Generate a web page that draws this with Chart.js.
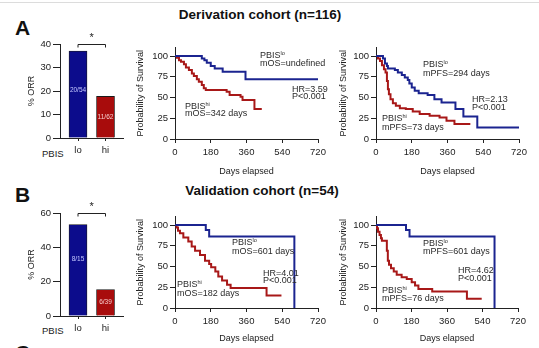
<!DOCTYPE html>
<html>
<head>
<meta charset="utf-8">
<script src="https://cdn.jsdelivr.net/npm/chart.js@4.4.1/dist/chart.umd.min.js"></script>
<style>
  body { margin: 0; width: 539px; height: 348px; background: #fff; position: relative; overflow: hidden;
         font-family: "Liberation Sans", Arial, sans-serif; color: #222; }
  canvas { position: absolute; }
  .t { position: absolute; white-space: nowrap; line-height: 1; }
  .panel { font-size: 21px; font-weight: bold; color: #111; }
  .head { font-size: 13.5px; font-weight: bold; color: #111; width: 240px; text-align: center; }
  .note { font-size: 9px; color: #2a2a2a; }
  .note sup { font-size: 5.5px; vertical-align: 0; position: relative; top: -3px; }
  .pb { font-size: 9.5px; }
  #rule { position: absolute; left: 0; top: 2px; width: 539px; height: 1px; background: #dcdcdc; }
</style>
</head>
<body>
<div id="rule"></div>
<div class="t panel" style="left:15px;top:17px">A</div>
<div class="t panel" style="left:15px;top:184px">B</div>
<div class="t panel" style="left:15px;top:342px">C</div>
<div class="t head" style="left:140px;top:8px">Derivation cohort (n=116)</div>
<div class="t head" style="left:142px;top:184px">Validation cohort (n=54)</div>
<div class="t pb" style="left:42px;top:149px">PBIS</div>
<div class="t pb" style="left:42px;top:326px">PBIS</div>

<canvas id="barA" width="105" height="135" style="left:26px;top:25px"></canvas>
<canvas id="barB" width="105" height="144" style="left:26px;top:194px"></canvas>
<canvas id="kmAos" width="195" height="137" style="left:135px;top:40px"></canvas>
<canvas id="kmApfs" width="193" height="137" style="left:338px;top:40px"></canvas>
<canvas id="kmBos" width="195" height="135" style="left:135px;top:209px"></canvas>
<canvas id="kmBpfs" width="192" height="135" style="left:338px;top:209px"></canvas>

<div class="t note" style="left:260px;top:51px">PBIS<sup>lo</sup></div>
<div class="t note" style="left:260px;top:59px">mOS=undefined</div>
<div class="t note" style="left:292px;top:85px">HR=3.59</div>
<div class="t note" style="left:292px;top:92px">P&lt;0.001</div>
<div class="t note" style="left:185px;top:102px">PBIS<sup>hi</sup></div>
<div class="t note" style="left:185px;top:109px">mOS=342 days</div>

<div class="t note" style="left:423px;top:60px">PBIS<sup>lo</sup></div>
<div class="t note" style="left:423px;top:69px">mPFS=294 days</div>
<div class="t note" style="left:472px;top:95px">HR=2.13</div>
<div class="t note" style="left:472px;top:103px">P&lt;0.001</div>
<div class="t note" style="left:382px;top:114px">PBIS<sup>hi</sup></div>
<div class="t note" style="left:382px;top:123px">mPFS=73 days</div>

<div class="t note" style="left:232px;top:238px">PBIS<sup>lo</sup></div>
<div class="t note" style="left:232px;top:247px">mOS=601 days</div>
<div class="t note" style="left:263px;top:269px">HR=4.01</div>
<div class="t note" style="left:263px;top:276px">P&lt;0.001</div>
<div class="t note" style="left:177px;top:280px">PBIS<sup>hi</sup></div>
<div class="t note" style="left:177px;top:289px">mOS=182 days</div>

<div class="t note" style="left:423px;top:239px">PBIS<sup>lo</sup></div>
<div class="t note" style="left:423px;top:247px">mPFS=601 days</div>
<div class="t note" style="left:458px;top:266px">HR=4.62</div>
<div class="t note" style="left:458px;top:274px">P&lt;0.001</div>
<div class="t note" style="left:382px;top:286px">PBIS<sup>hi</sup></div>
<div class="t note" style="left:382px;top:294px">mPFS=76 days</div>

<script>
// objective response rate, %
const groups = ["lo", "hi"];
const orrA = [37.0, 17.7];
const orrB = [53.3, 15.4];
const fracA = ["20/54", "11/62"];
const fracB = ["8/15", "6/39"];

// Kaplan-Meier steps: day of each step, survival % after it
const osLoDaysA = [0, 135, 148, 160, 180, 200, 240, 355, 720];
const osLoA = [100, 97, 95, 92, 88, 85, 81, 72, 72];
const osHiDaysA = [0, 10, 20, 30, 45, 55, 70, 85, 95, 110, 120, 135, 145, 155, 260, 275, 330, 340, 400, 437];
const osHiA = [100, 98, 95, 93, 90, 86, 83, 79, 76, 72, 69, 65, 61, 59, 57, 53, 51, 47, 36, 36];

const pfsLoDaysA = [0, 35, 45, 55, 60, 95, 110, 130, 145, 160, 168, 180, 195, 215, 260, 294, 330, 400, 440, 510, 720];
const pfsLoA = [100, 97, 91, 88, 85, 83, 80, 77, 74, 71, 67, 62, 58, 55, 53, 48, 44, 36, 27, 14, 14];
const pfsHiDaysA = [0, 10, 20, 30, 40, 48, 55, 60, 65, 73, 85, 100, 120, 150, 185, 220, 270, 320, 355, 395, 475];
const pfsHiA = [100, 97, 94, 89, 84, 80, 70, 60, 54, 48, 43, 40, 37, 36, 33, 30, 28, 26, 22, 18, 18];

const osLoDaysB = [0, 155, 172, 601];
const osLoB = [100, 94, 86, 0];
const osHiDaysB = [0, 8, 15, 25, 42, 67, 84, 101, 126, 151, 172, 182, 203, 218, 237, 262, 280, 461, 536];
const osHiB = [100, 97, 93, 90, 85, 80, 74, 69, 64, 57, 53, 49, 44, 38, 33, 28, 24, 15, 15];

const pfsLoDaysB = [0, 152, 170, 601];
const pfsLoB = [100, 94, 86, 0];
const pfsHiDaysB = [0, 5, 10, 18, 25, 30, 55, 60, 66, 76, 90, 105, 130, 156, 181, 198, 215, 285, 461, 536];
const pfsHiB = [100, 96, 92, 88, 84, 81, 69, 57, 52, 48, 44, 40, 37, 35, 31, 27, 23, 20, 11, 11];

const dayTicks = [0, 180, 360, 540, 720];
const survTicks = [0, 25, 50, 75, 100];

const BLUE = "#1b2490";
const RED = "#a81818";
const AX = "#222";
const FONT = '"Liberation Sans", Arial, sans-serif';

Chart.defaults.font.family = FONT;
Chart.defaults.color = "#222";

function pts(days, vals) {
    return days.map((d, i) => ({ x: d, y: vals[i] }));
}

// fraction labels inside bars, bracket and star on top
const barMarks = {
    id: "barMarks",
    afterDatasetsDraw(chart, args, opts) {
        const ctx = chart.ctx;
        const bars = chart.getDatasetMeta(0).data;
        const top = chart.chartArea.top;
        ctx.save();
        ctx.font = "6.5px " + FONT;
        ctx.textAlign = "center";
        ctx.textBaseline = "middle";
        bars.forEach((b, i) => {
            ctx.fillStyle = i === 0 ? "#c4c8ff" : "#f6cccc";
            const f = i === 0 ? opts.loPos : 0.5;
            ctx.fillText(opts.labels[i], b.x, b.base - f * (b.base - b.y));
        });
        ctx.strokeStyle = AX;
        ctx.lineWidth = 1;
        ctx.beginPath();
        ctx.moveTo(bars[0].x, top + 3.5);
        ctx.lineTo(bars[0].x, top + 0.5);
        ctx.lineTo(bars[1].x, top + 0.5);
        ctx.lineTo(bars[1].x, top + 3.5);
        ctx.stroke();
        ctx.fillStyle = AX;
        ctx.font = "11px " + FONT;
        ctx.textBaseline = "alphabetic";
        ctx.fillText("*", (bars[0].x + bars[1].x) / 2, top - 3);
        ctx.restore();
    }
};

function orrChart(id, vals, labels, yMax, yStep, loPos) {
    return new Chart(document.getElementById(id), {
        type: "bar",
        data: {
            datasets: [
                {
                    data: vals.map((v, i) => ({ x: i, y: v })),
                    backgroundColor: ["#0c0c8c", "#a80c0c"],
                    borderColor: "#1a1a1a",
                    borderWidth: 0.8,
                    barThickness: 18
                }
            ]
        },
        options: {
            responsive: false,
            animation: false,
            events: [],
            layout: { padding: { top: 19, right: 8 } },
            plugins: {
                legend: { display: false },
                tooltip: { enabled: false },
                barMarks: { labels: labels, loPos: loPos }
            },
            scales: {
                x: {
                    type: "linear",
                    offset: false,
                    min: -0.655,
                    max: 1.636,
                    afterBuildTicks: s => { s.ticks = groups.map((g, i) => ({ value: i })); },
                    grid: { offset: false, drawOnChartArea: false, tickLength: 3, color: AX },
                    border: { color: AX },
                    ticks: { padding: 4, font: { size: 9.5 }, callback: v => groups[v] },
                    afterFit: s => { s.height = 22; }
                },
                y: {
                    min: 0,
                    max: yMax,
                    ticks: { stepSize: yStep, padding: 2, font: { size: 9.5 } },
                    grid: { drawOnChartArea: false, tickLength: 7, color: AX },
                    border: { color: AX },
                    title: { display: true, text: "% ORR", padding: 0, font: { size: 9 } },
                    afterFit: s => { s.width = 34; }
                }
            }
        },
        plugins: [barMarks]
    });
}

function kmChart(id, lo, hi, yW, xH) {
    return new Chart(document.getElementById(id), {
        type: "line",
        data: {
            datasets: [
                { data: lo, borderColor: BLUE, borderWidth: 2, stepped: true, pointRadius: 0, fill: false },
                { data: hi, borderColor: RED, borderWidth: 2, stepped: true, pointRadius: 0, fill: false }
            ]
        },
        options: {
            responsive: false,
            animation: false,
            events: [],
            layout: { padding: { top: 4, right: 12 } },
            plugins: { legend: { display: false }, tooltip: { enabled: false } },
            scales: {
                x: {
                    type: "linear",
                    min: 0,
                    max: 720,
                    afterBuildTicks: s => { s.ticks = dayTicks.map(v => ({ value: v })); },
                    ticks: { padding: 4, font: { size: 9.5 } },
                    grid: { drawOnChartArea: false, tickLength: 4, color: AX },
                    border: { color: AX },
                    title: { display: true, text: "Days elapsed", padding: 0, font: { size: 9 } },
                    afterFit: s => { s.height = xH; }
                },
                y: {
                    min: 0,
                    max: 110,
                    afterBuildTicks: s => { s.ticks = survTicks.map(v => ({ value: v })); },
                    ticks: { padding: 2, font: { size: 9.5 } },
                    grid: { drawOnChartArea: false, tickLength: 5, color: AX },
                    border: { color: AX },
                    title: { display: true, text: "Probability of Survival", padding: 0, font: { size: 9 } },
                    afterFit: s => { s.width = yW; }
                }
            }
        }
    });
}

orrChart("barA", orrA, fracA, 40, 10, 0.55);
orrChart("barB", orrB, fracB, 60, 20, 0.62);
kmChart("kmAos", pts(osLoDaysA, osLoA), pts(osHiDaysA, osHiA), 40, 38);
kmChart("kmApfs", pts(pfsLoDaysA, pfsLoA), pts(pfsHiDaysA, pfsHiA), 38, 38);
kmChart("kmBos", pts(osLoDaysB, osLoB), pts(osHiDaysB, osHiB), 40, 36);
kmChart("kmBpfs", pts(pfsLoDaysB, pfsLoB), pts(pfsHiDaysB, pfsHiB), 38, 36);
</script>
</body>
</html>
